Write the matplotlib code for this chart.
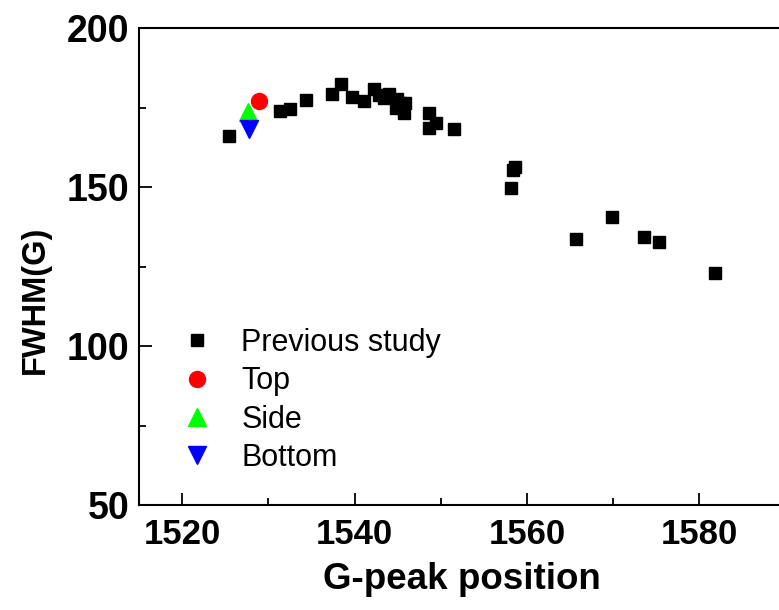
import numpy as np
import matplotlib
matplotlib.use("Agg")
import matplotlib.pyplot as plt
from matplotlib.ticker import MultipleLocator

plt.rcParams['font.family'] = ['Liberation Sans', 'DejaVu Sans']

# previous study (black squares)
prev_x = [1525.4, 1531.4, 1532.5, 1534.4, 1537.4, 1538.4, 1539.7, 1541.1,
          1542.3, 1542.9, 1543.4, 1544.0, 1544.9, 1545.3, 1544.8, 1545.9,
          1545.7, 1548.6, 1549.5, 1548.6, 1551.5, 1558.4, 1558.6, 1558.2,
          1565.7, 1569.9, 1573.6, 1575.3, 1581.8]
prev_y = [166.1, 174.0, 174.5, 177.4, 179.2, 182.4, 178.2, 177.1,
          180.8, 178.9, 177.9, 179.2, 177.6, 176.3, 174.7, 176.3,
          173.2, 173.2, 170.0, 168.5, 168.2, 155.4, 156.2, 149.6,
          133.8, 140.7, 134.4, 132.6, 123.1]

top_x, top_y = [1528.9], [177.0]
side_x, side_y = [1527.7], [173.7]
bottom_x, bottom_y = [1527.8], [168.1]

fig = plt.figure(figsize=(7.79, 6.10), dpi=100)
ax = fig.add_axes([139/779, 105/610, (1590-1515)*8.62/779, 477/610])

ax.plot(prev_x, prev_y, 's', color='black', markersize=8.8, linestyle='none', label='Previous study')
ax.plot(top_x, top_y, 'o', color='red', markersize=11.5, linestyle='none', label='Top')
ax.plot(side_x, side_y, '^', color='#00ff00', markersize=13, linestyle='none', label='Side')
ax.plot(bottom_x, bottom_y, 'v', color='blue', markersize=13, linestyle='none', label='Bottom')

ax.set_xlim(1515, 1590)
ax.set_ylim(50, 200)
ax.xaxis.set_major_locator(MultipleLocator(20))
ax.xaxis.set_minor_locator(MultipleLocator(10))
ax.yaxis.set_major_locator(MultipleLocator(50))
ax.yaxis.set_minor_locator(MultipleLocator(25))

for s in ax.spines.values():
    s.set_linewidth(1.5)
ax.tick_params(which='both', direction='in', width=1.3, top=False, right=False)
ax.tick_params(which='major', length=9, pad=9, labelsize=25)
ax.tick_params(axis='y', which='major', labelsize=27, pad=7)
ax.tick_params(which='minor', length=5)
for lab in ax.get_xticklabels() + ax.get_yticklabels():
    lab.set_fontweight('bold')

ax.set_xlabel('G-peak position', fontsize=26.5, fontweight='bold', labelpad=8)
ax.set_ylabel('FWHM(G)', fontsize=23.5, fontweight='bold')
ax.yaxis.set_label_coords(-0.136, 0.43)

leg = ax.legend(loc='upper left', bbox_to_anchor=(0.062, 0.371), frameon=False,
                fontsize=22, handletextpad=0.83, labelspacing=0.27, handlelength=1.2,
                borderaxespad=0, borderpad=0)

fig.savefig('out.png', dpi=100)
